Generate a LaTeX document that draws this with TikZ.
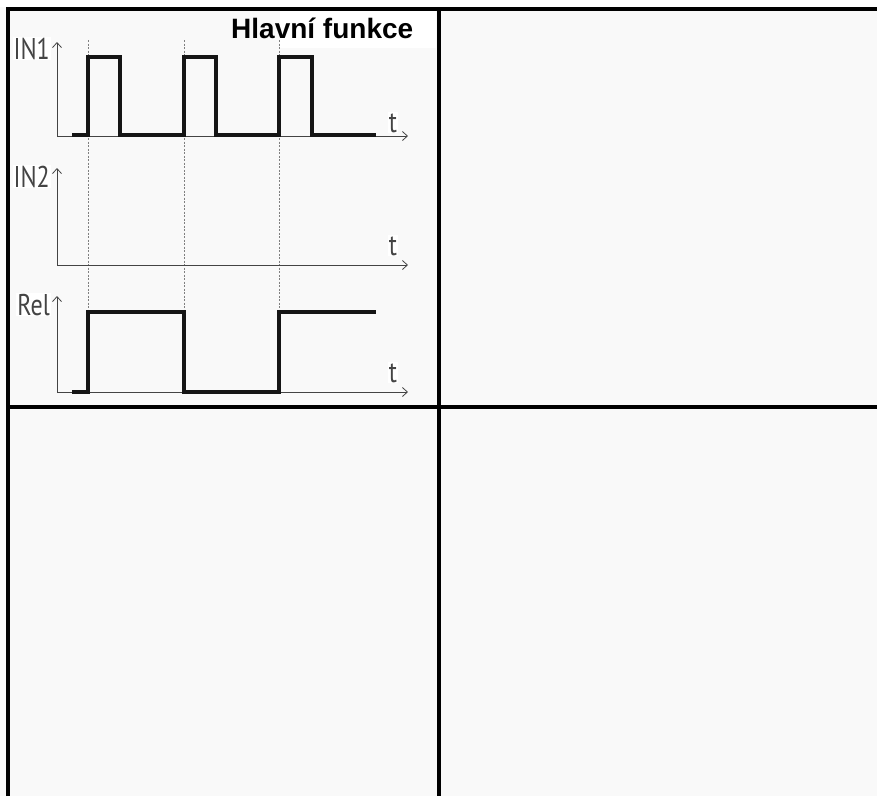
\documentclass[tikz,border=0pt]{standalone}
\usepackage{fontspec}
\setmainfont{Liberation Sans}
\newfontfamily\labfont[FakeStretch=0.8]{PT Sans}
\usetikzlibrary{arrows.meta}
\definecolor{bgc}{HTML}{F9F9F9}
\definecolor{labc}{HTML}{444444}
\definecolor{axc}{HTML}{444444}
\definecolor{sigc}{HTML}{151515}
\tikzset{
  frame/.style={line width=3.2pt, black},
  axis/.style={line width=1pt, axc, -{Straight Barb[length=5pt,width=9pt,line width=0.8pt]}},
  sig/.style={line width=3.3pt, sigc, line join=miter},
  guide/.style={line width=0.6pt, gray, dash pattern=on 2pt off 1.5pt},
  lab/.style={font=\labfont\fontsize{30}{30}\selectfont, text=labc, inner sep=1pt, fill=white},
  tlab/.style={font=\labfont\fontsize{30}{30}\selectfont, text=labc, inner sep=1pt, fill=white},
  title/.style={font=\bfseries\fontsize{28}{28}\selectfont, text=black, inner sep=0pt}
}
\begin{document}
\begin{tikzpicture}[x=1pt,y=-1pt]
\useasboundingbox (0,0) rectangle (877,796);
\fill[bgc] (0,0) rectangle (877,796);
\fill[white] (0,0) rectangle (877,7);
% title background
\fill[white] (280,11) rectangle (436,48);
\node[title, anchor=base west] (title) at (231,38) {Hlavní funkce};
% guides
\draw[guide] (88,40) -- (88,312);
\draw[guide] (184,40) -- (184,312);
\draw[guide] (279,40) -- (279,312);
% IN1
\draw[axis] (57,137) -- (57,42);
\draw[axis] (57,136) -- (408,136);
\node[lab, anchor=base east] (in1) at (51,59) {IN1};
\node[tlab, anchor=base] (t1) at (393,132) {t};
\draw[sig] (72,135) -- (88,135) -- (88,57) -- (120,57) -- (120,135) -- (184,135) -- (184,57) -- (216,57) -- (216,135) -- (279,135) -- (279,57) -- (312,57) -- (312,135) -- (376,135);
% IN2
\draw[axis] (57,266) -- (57,168);
\draw[axis] (57,265) -- (408,265);
\node[lab, anchor=base east] (in2) at (51,187) {IN2};
\node[tlab, anchor=base] (t2) at (393,255) {t};
% Rel
\draw[axis] (57,393) -- (57,296);
\draw[axis] (57,392) -- (408,392);
\node[lab, anchor=base east] (rel) at (51,315) {Rel};
\node[tlab, anchor=base] (t3) at (393,382) {t};
\draw[sig] (72,392) -- (88,392) -- (88,312) -- (184,312) -- (184,392) -- (279,392) -- (279,312) -- (376,312);
% frame
\draw[frame] (8,796) -- (8,9) -- (877,9);
\draw[frame] (439,9) -- (439,796);
\draw[frame] (8,407) -- (877,407);
\end{tikzpicture}
\end{document}
